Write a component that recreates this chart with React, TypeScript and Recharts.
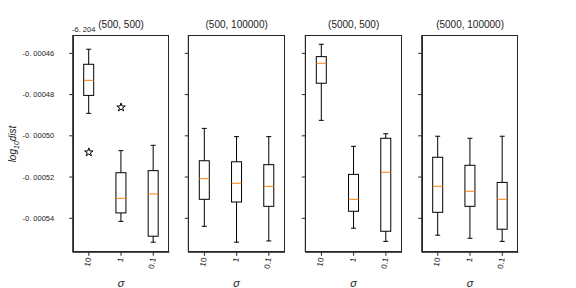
import React from 'react';
import { ComposedChart, Bar, Scatter, XAxis, YAxis, ZAxis } from 'recharts';

// sigma categories shared by all panels
const sigmas = ['10', '1', '0.1'];
const panelTitles = ['(500, 500)', '(500, 100000)', '(5000, 500)', '(5000, 100000)'];

// box statistics per panel (values shown relative to the -6.204 offset)
const whiskerHigh = [
    [-0.000458, -0.0005072, -0.0005046],
    [-0.0004964, -0.0005004, -0.0005004],
    [-0.0004556, -0.0005051, -0.000499],
    [-0.0005002, -0.0005012, -0.0005002],
];
const q3 = [
    [-0.0004653, -0.0005179, -0.0005169],
    [-0.0005121, -0.0005126, -0.000514],
    [-0.0004616, -0.0005187, -0.0005012],
    [-0.0005104, -0.0005143, -0.0005226],
];
const medians = [
    [-0.0004731, -0.0005303, -0.0005282],
    [-0.0005208, -0.000523, -0.0005245],
    [-0.0004648, -0.0005308, -0.0005177],
    [-0.0005245, -0.0005269, -0.0005308],
];
const q1 = [
    [-0.0004804, -0.0005374, -0.0005487],
    [-0.0005308, -0.0005321, -0.0005342],
    [-0.0004745, -0.0005366, -0.0005463],
    [-0.0005371, -0.0005342, -0.0005453],
];
const whiskerLow = [
    [-0.0004891, -0.0005415, -0.0005516],
    [-0.0005439, -0.0005516, -0.000551],
    [-0.0004925, -0.0005448, -0.0005512],
    [-0.0005482, -0.0005497, -0.0005512],
];
const outlierPanel = [0, 0];
const outlierSigma = ['10', '1'];
const outlierValue = [-0.000508, -0.0004862];

const yTicks = [-0.00054, -0.00052, -0.0005, -0.00048, -0.00046];
const yDomain = [-0.0005565, -0.0004511];

const panelLeft = [72.7, 188.3, 305.3, 421.7];
const panelWidth = 96.7;
const plotTop = 35;
const plotBottom = 252.3;
const W = 576;
const H = 288;
const frame = '#262626';

const BoxShape = (props: any) => {
    const { x, y, width, height, payload } = props;
    const hi = payload.wh;
    const lo = payload.wl;
    const py = (v: number) => y + ((hi - v) / (hi - lo)) * height;
    const cx = x + width / 2;
    const cap = width / 4;
    return (
        <g>
            <line x1={cx} x2={cx} y1={py(hi)} y2={py(payload.q3)} stroke="#000" />
            <line x1={cx} x2={cx} y1={py(payload.q1)} y2={py(lo)} stroke="#000" />
            <line x1={cx - cap} x2={cx + cap} y1={py(hi)} y2={py(hi)} stroke="#000" />
            <line x1={cx - cap} x2={cx + cap} y1={py(lo)} y2={py(lo)} stroke="#000" />
            <rect x={x} y={py(payload.q3)} width={width} height={py(payload.q1) - py(payload.q3)} fill="none" stroke="#000" />
            <line x1={x} x2={x + width} y1={py(payload.med)} y2={py(payload.med)} stroke="#ff7f0e" />
        </g>
    );
};

const YTick = ({ x, y, payload, show }: any) =>
    show ? (
        <text x={x} y={y} textAnchor="end" dominantBaseline="central" fontSize={7.5} fill="#222">
            {payload.value.toFixed(5).replace('.', '. ')}
        </text>
    ) : null;

const XTick = ({ x, y, payload }: any) => (
    <text
        transform={`translate(${x},${y}) rotate(-80)`}
        textAnchor="end"
        dominantBaseline="central"
        fontSize={8}
        fill="#222"
    >
        {payload.value}
    </text>
);

const Panel = ({ idx }: { idx: number }) => {
    const data = sigmas.map((s, j) => ({
        sigma: s,
        wh: whiskerHigh[idx][j],
        q3: q3[idx][j],
        med: medians[idx][j],
        q1: q1[idx][j],
        wl: whiskerLow[idx][j],
    }));
    const outliers = outlierValue
        .map((v, k) => ({ sigma: outlierSigma[k], v, p: outlierPanel[k] }))
        .filter((o) => o.p === idx);
    const left = panelLeft[idx];
    return (
        <div style={{ position: 'absolute', left: 0, top: 0 }}>
            <ComposedChart
                width={W}
                height={H}
                data={data}
                margin={{ top: plotTop, right: W - left - panelWidth, bottom: H - plotBottom - 30, left: 0 }}
            >
                <XAxis
                    dataKey="sigma"
                    allowDuplicatedCategory={false}
                    height={30}
                    stroke={frame}
                    tickSize={3.5}
                    tickMargin={2}
                    tick={<XTick />}
                    interval={0}
                />
                <YAxis
                    type="number"
                    domain={yDomain}
                    ticks={yTicks}
                    allowDataOverflow
                    width={left}
                    stroke={frame}
                    tickSize={3.5}
                    tickMargin={15}
                    tick={<YTick show={idx === 0} />}
                />
                <ZAxis range={[22, 22]} />
                <Bar
                    dataKey={(d: any) => [d.wl, d.wh]}
                    barSize={10}
                    shape={<BoxShape />}
                    isAnimationActive={false}
                />
                <Scatter
                    data={outliers}
                    dataKey="v"
                    shape="star"
                    fill="none"
                    stroke="#000"
                    legendType="none"
                    isAnimationActive={false}
                />
            </ComposedChart>
            {/* axes frame */}
            <div
                style={{
                    position: 'absolute',
                    left: left,
                    top: plotTop,
                    width: panelWidth,
                    height: plotBottom - plotTop,
                    boxSizing: 'border-box',
                    border: `1px solid ${frame}`,
                    pointerEvents: 'none',
                }}
            />
        </div>
    );
};

export default function App() {
    return (
        <div
            style={{
                position: 'absolute',
                left: 0,
                top: 0,
                width: W,
                height: H,
                background: '#fff',
                fontFamily: '"Liberation Sans", Arial, sans-serif',
                color: '#222',
            }}
        >
            {panelTitles.map((t, i) => (
                <Panel key={t} idx={i} />
            ))}
            {panelTitles.map((t, i) => (
                <div
                    key={'title' + t}
                    style={{
                        position: 'absolute',
                        left: panelLeft[i] + panelWidth / 2,
                        top: 25,
                        transform: 'translate(-50%, -50%)',
                        fontSize: 10,
                        lineHeight: 1,
                        whiteSpace: 'nowrap',
                    }}
                >
                    {t}
                </div>
            ))}
            {panelTitles.map((t, i) => (
                <div
                    key={'xl' + t}
                    style={{
                        position: 'absolute',
                        left: panelLeft[i] + panelWidth / 2,
                        top: 283,
                        transform: 'translate(-50%, -50%)',
                        fontSize: 11,
                        fontStyle: 'italic',
                        lineHeight: 1,
                    }}
                >
                    σ
                </div>
            ))}
            <div style={{ position: 'absolute', left: 72, top: 25.5, fontSize: 7.5, lineHeight: 1 }}>-6. 204</div>
            <div
                style={{
                    position: 'absolute',
                    left: 14,
                    top: 144,
                    transform: 'translate(-50%, -50%) rotate(-90deg)',
                    fontSize: 10,
                    fontStyle: 'italic',
                    whiteSpace: 'nowrap',
                    lineHeight: 1,
                }}
            >
                log<sub style={{ fontSize: 7 }}>10</sub>dist
            </div>
        </div>
    );
}
